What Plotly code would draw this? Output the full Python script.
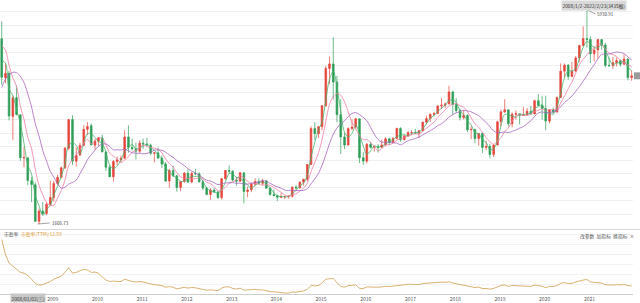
import plotly.graph_objects as go
import pandas as pd

# ---------------- data (CSI 300, monthly) ----------------
hist_2007_close = [2535, 2582, 2782, 3539, 3903, 3836, 4472, 5218, 5600, 5688, 4838, 5338]

months = pd.date_range("2008-01-01", "2022-02-01", freq="MS").strftime("%Y-%m").tolist()

opens = [
    5349, 4560, 4650, 3780, 4160, 3810, 2940, 2940, 2480, 2400, 1660, 1870,
    1818, 2000, 2140, 2425, 2550, 2741, 3138, 3716, 2876, 3000, 3195, 3519,
    3592, 3200, 3281, 3346, 3060, 2754, 2560, 2868, 2903, 2935, 3365, 3155,
    3128, 3077, 3239, 3223, 3200, 3035, 3044, 2938, 2817, 2475, 2690, 2581,
    2346, 2464, 2634, 2455, 2626, 2620, 2461, 2333, 2204, 2293, 2254, 2140,
    2523, 2688, 2674, 2495, 2470, 2640, 2263, 2294, 2409, 2465, 2429, 2476,
    2330, 2202, 2178, 2146, 2158, 2160, 2165, 2352, 2338, 2451, 2509, 2808,
    3534, 3434, 3572, 3996, 4750, 4841, 4473, 3816, 3366, 3203, 3534, 3566,
    3731, 2946, 2877, 3218, 3156, 3169, 3154, 3204, 3327, 3253, 3336, 3538,
    3310, 3387, 3453, 3456, 3439, 3493, 3666, 3737, 3822, 3837, 3993, 4006,
    4031, 4275, 4023, 3899, 3756, 3802, 3510, 3517, 3335, 3438, 3153, 3173,
    3011, 3202, 3670, 3872, 3913, 3630, 3826, 3835, 3799, 3814, 3886, 3829,
    4097, 4004, 3940, 3686, 3913, 3868, 4164, 4695, 4816, 4588, 4695, 4960,
    5211, 5351, 5336, 5048, 5124, 5332, 5224, 4812, 4806, 4866, 4908, 4833,
    4940, 4564,
]
highs = [
    5697, 4860, 4700, 4200, 4390, 3830, 3160, 2960, 2560, 2450, 1920, 2050,
    2050, 2480, 2480, 2600, 2770, 3160, 3720, 3803, 3150, 3250, 3600, 3670,
    3640, 3320, 3360, 3410, 3090, 2800, 2900, 2970, 2990, 3500, 3600, 3330,
    3250, 3300, 3330, 3350, 3230, 3060, 3150, 2990, 2860, 2720, 2780, 2590,
    2480, 2660, 2710, 2660, 2720, 2650, 2500, 2360, 2330, 2330, 2270, 2530,
    2700, 2790, 2690, 2560, 2660, 2650, 2360, 2440, 2530, 2530, 2520, 2500,
    2350, 2300, 2200, 2230, 2180, 2190, 2360, 2390, 2470, 2520, 2810, 3580,
    3660, 3590, 4010, 4800, 4990, 5380, 4600, 4130, 3450, 3560, 3720, 3750,
    3730, 3060, 3240, 3270, 3200, 3220, 3310, 3360, 3350, 3360, 3550, 3560,
    3400, 3480, 3500, 3530, 3500, 3670, 3800, 3840, 3870, 4000, 4150, 4060,
    4400, 4300, 4150, 3940, 3900, 3820, 3580, 3530, 3440, 3450, 3290, 3230,
    3210, 3690, 3920, 4127, 3920, 3860, 3900, 3840, 3970, 3950, 3990, 4120,
    4230, 4200, 4200, 3920, 3960, 4180, 4850, 4850, 4840, 4880, 5000, 5230,
    5600, 5931, 5400, 5190, 5350, 5340, 5270, 4970, 4980, 4970, 4930, 5030,
    4950, 4710,
]
lows = [
    4420, 4450, 3700, 3300, 3800, 2880, 2750, 2390, 2050, 1650, 1607, 1780,
    1790, 2000, 2060, 2400, 2530, 2720, 3100, 2800, 2770, 2980, 3190, 3400,
    3200, 3110, 3190, 3050, 2680, 2550, 2463, 2800, 2860, 2930, 3050, 3090,
    2910, 3040, 3120, 3190, 3000, 2850, 2920, 2740, 2460, 2340, 2560, 2260,
    2270, 2440, 2440, 2430, 2590, 2440, 2290, 2190, 2100, 2240, 2110, 2100,
    2500, 2620, 2470, 2380, 2460, 2023, 2150, 2250, 2390, 2400, 2390, 2320,
    2180, 2170, 2070, 2130, 2110, 2120, 2140, 2290, 2320, 2380, 2470, 2800,
    3310, 3340, 3500, 3980, 4430, 4120, 3660, 3020, 3120, 3190, 3500, 3520,
    2840, 2800, 2830, 3130, 3070, 3050, 3150, 3180, 3200, 3250, 3320, 3270,
    3300, 3370, 3400, 3420, 3340, 3470, 3620, 3670, 3790, 3830, 3930, 3950,
    4030, 3810, 3850, 3700, 3720, 3460, 3320, 3240, 3190, 3040, 3100, 2935,
    2960, 3200, 3580, 3850, 3580, 3560, 3720, 3620, 3790, 3800, 3820, 3840,
    3990, 3710, 3500, 3640, 3830, 3860, 4160, 4560, 4520, 4580, 4690, 4880,
    5200, 5170, 4860, 4890, 4950, 5130, 4770, 4780, 4740, 4790, 4790, 4830,
    4510, 4500,
]
closes = [
    4572, 4650, 3790, 4155, 3820, 2946, 2950, 2487, 2404, 1663, 1870, 1818,
    2004, 2140, 2425, 2550, 2741, 3138, 3716, 2876, 2996, 3195, 3519, 3576,
    3204, 3281, 3346, 3068, 2754, 2563, 2868, 2903, 2935, 3365, 3155, 3128,
    3077, 3239, 3223, 3202, 3035, 3044, 2938, 2817, 2475, 2690, 2581, 2346,
    2464, 2634, 2455, 2626, 2620, 2461, 2333, 2204, 2293, 2254, 2140, 2523,
    2688, 2674, 2495, 2470, 2640, 2263, 2294, 2409, 2465, 2429, 2476, 2330,
    2202, 2178, 2146, 2158, 2160, 2165, 2352, 2338, 2451, 2509, 2808, 3534,
    3434, 3572, 3996, 4750, 4841, 4473, 3816, 3366, 3203, 3534, 3566, 3731,
    2946, 2877, 3218, 3156, 3169, 3154, 3204, 3327, 3253, 3336, 3538, 3310,
    3387, 3453, 3456, 3439, 3493, 3666, 3737, 3822, 3837, 3993, 4006, 4031,
    4275, 4023, 3899, 3756, 3802, 3510, 3517, 3335, 3438, 3153, 3173, 3011,
    3202, 3670, 3872, 3913, 3630, 3826, 3835, 3799, 3814, 3886, 3829, 4097,
    4004, 3940, 3686, 3913, 3868, 4164, 4695, 4816, 4588, 4695, 4960, 5211,
    5351, 5336, 5048, 5124, 5332, 5224, 4812, 4806, 4866, 4908, 4833, 4940,
    4564, 4600,
]
pe_ttm = [
    43, 33, 27.6, 25.5, 24, 21.5, 21, 19.5, 17, 14.2, 13.2, 13.5,
    14.5, 15.5, 17, 17.8, 19, 21.5, 24.5, 21, 21.5, 22.5, 23.5, 23,
    21.5, 21.7, 21, 18.5, 16.5, 15.5, 15.8, 15.5, 15.5, 17, 16, 15.5,
    15.2, 15.5, 15.2, 14.8, 14, 13.5, 13.2, 12.8, 11.8, 12.2, 11.8, 10.7,
    11.2, 11.8, 11.2, 11.6, 11.4, 10.8, 10.3, 9.8, 10.1, 10, 9.6, 11.2,
    12, 12, 11, 10.6, 11.2, 9.8, 9.8, 10.2, 10.4, 10, 10.1, 9.4,
    8.9, 8.8, 8.5, 8.1, 8.0, 8.0, 8.7, 8.6, 9.1, 9.3, 10.4, 13,
    12.6, 13, 14.6, 17, 17.3, 17.5, 14.8, 12.3, 11.8, 12.8, 13, 13.4,
    11.1, 10.9, 12, 11.8, 11.8, 11.8, 12, 12.4, 12.2, 12.5, 13.2, 13.2,
    13.4, 13.7, 13.7, 13.6, 13.5, 14.2, 14.4, 14.7, 14.7, 15.1, 15.1, 15,
    15.3, 14.5, 14, 13.5, 13.3, 12.3, 12.2, 11.6, 11.9, 10.9, 11, 10.5,
    11, 12.3, 13, 13.2, 12.3, 12.9, 12.8, 12.6, 12.6, 12.8, 12.3, 13.2,
    12.8, 12.4, 11.5, 12.3, 12.2, 12.9, 14.3, 14.8, 14.2, 14.3, 15.2, 16,
    16.5, 16.8, 15.3, 15, 14.8, 14.5, 13.4, 13.1, 13.2, 13.4, 13.3, 13.7,
    12.8, 12.59,
]
year_ticks = [str(y) for y in range(2009, 2022)]
low_label = 1606.73
high_label = 5930.91
range_text = "2008/1/2-2022/2/23(3435根)"
pe_title = "市盈率"
pe_label = "市盈率(TTM):12.59"
date_box = "2008/01/02(三)"
buttons_text = "改参数  加指标  换指标  ×"

# ---------------- derived ----------------
x = [m + "-15" for m in months]
all_close = pd.Series(hist_2007_close + closes)
n_hist = len(hist_2007_close)
ma_short = all_close.rolling(3).mean().tolist()[n_hist:]
ma_mid = all_close.rolling(6).mean().tolist()[n_hist:]
ma_long = all_close.rolling(12).mean().tolist()[n_hist:]

W, H = 640, 303
FONT = "Noto Sans CJK SC, Noto Sans, sans-serif"

fig = go.Figure()
fig.add_trace(go.Candlestick(
    x=x, open=opens, high=highs, low=lows, close=closes,
    increasing=dict(line=dict(color="#e5463c", width=0.7), fillcolor="#e5463c"),
    decreasing=dict(line=dict(color="#2e9d58", width=0.7), fillcolor="#2e9d58"),
    whiskerwidth=0, xaxis="x", yaxis="y", showlegend=False, hoverinfo="skip",
))
for vals, col in [(ma_short, "#47b36a"), (ma_mid, "#ee7fa4"), (ma_long, "#a864c0")]:
    fig.add_trace(go.Scatter(x=x, y=vals, mode="lines", line=dict(color=col, width=0.8, shape="spline"),
                             xaxis="x", yaxis="y", showlegend=False, hoverinfo="skip"))
fig.add_trace(go.Scatter(x=x, y=pe_ttm, mode="lines", line=dict(color="#d4a862", width=0.9),
                         xaxis="x2", yaxis="y2", showlegend=False, hoverinfo="skip"))

xr = ["2008-01-01", "2022-02-26"]
xdom = [0, 633 / W]
fig.update_layout(
    width=W, height=H, margin=dict(l=0, r=0, t=0, b=0),
    paper_bgcolor="white", plot_bgcolor="white",
    font=dict(family=FONT, size=5, color="#555"),
    xaxis=dict(domain=xdom, range=xr, type="date", showticklabels=False, showgrid=False,
               rangeslider=dict(visible=False), zeroline=False, anchor="y"),
    yaxis=dict(domain=[1 - 228 / H, 1], range=[1526, 6132], showticklabels=False,
               showgrid=True, gridcolor="#f0f0f0", gridwidth=1, dtick=273, tick0=1526,
               zeroline=False, anchor="x"),
    xaxis2=dict(domain=xdom, range=xr, type="date", anchor="y2", showgrid=False,
                tickvals=[y + "-01-01" for y in year_ticks], ticktext=year_ticks,
                ticks="", ticklabelshift=8, tickfont=dict(size=5, color="#555"),
                showline=True, linecolor="#cfcfcf", linewidth=1, zeroline=False),
    yaxis2=dict(domain=[9 / H, 72 / H], range=[7.36, 48.5], showticklabels=False,
                showgrid=True, gridcolor="#f2f2f2", dtick=6.5, tick0=7.36,
                zeroline=False, anchor="x2"),
)

# separator between panels
fig.add_shape(type="line", xref="paper", yref="paper", x0=0, x1=1, y0=1 - 229.5 / H, y1=1 - 229.5 / H,
              line=dict(color="#d8d8d8", width=1))

# extreme labels
fig.add_annotation(x="2008-11-04", y=low_label, xref="x", yref="y", text=f"{low_label:.2f}",
                   showarrow=True, arrowhead=0, arrowwidth=0.6, arrowcolor="#666", ax=12, ay=-1,
                   xanchor="left", font=dict(size=4.5, color="#444"))
fig.add_annotation(x="2021-02-18", y=high_label, xref="x", yref="y", text=f"{high_label:.2f}",
                   showarrow=True, arrowhead=0, arrowwidth=0.6, arrowcolor="#666", ax=8, ay=4,
                   xanchor="left", font=dict(size=4.5, color="#444"))
# range label on top right
fig.add_annotation(x=627 / W, y=1, xref="paper", yref="paper", text=range_text, showarrow=False,
                   xanchor="right", yanchor="top", bgcolor="#d9d9d9", borderpad=0.5,
                   font=dict(size=4.8, color="#333"))
# PE panel labels
fig.add_annotation(x=2 / W, y=1 - 234 / H, xref="paper", yref="paper", text=pe_title, showarrow=False,
                   xanchor="left", yanchor="middle", font=dict(size=4.8, color="#555"))
fig.add_annotation(x=19 / W, y=1 - 234 / H, xref="paper", yref="paper", text=pe_label, showarrow=False,
                   xanchor="left", yanchor="middle", font=dict(size=4.8, color="#d89a3a"))
fig.add_annotation(x=636 / W, y=1 - 236 / H, xref="paper", yref="paper", text=buttons_text, showarrow=False,
                   xanchor="right", yanchor="middle", font=dict(size=4.8, color="#555"))
# date box bottom-left
fig.add_annotation(x=10 / W, y=1 - 298 / H, xref="paper", yref="paper", text=date_box, showarrow=False,
                   xanchor="left", yanchor="middle", bgcolor="#c8c8c8", borderpad=0.5,
                   font=dict(size=4.8, color="#333"))
# current price marker on right edge (tag is cut off by the window in the reference)
fig.add_shape(type="rect", xref="paper", yref="y", x0=634 / W, x1=1, y0=closes[-1] - 70, y1=closes[-1] + 70,
              fillcolor="#9a9a9a", line=dict(width=0))

fig.write_html("out.html")
